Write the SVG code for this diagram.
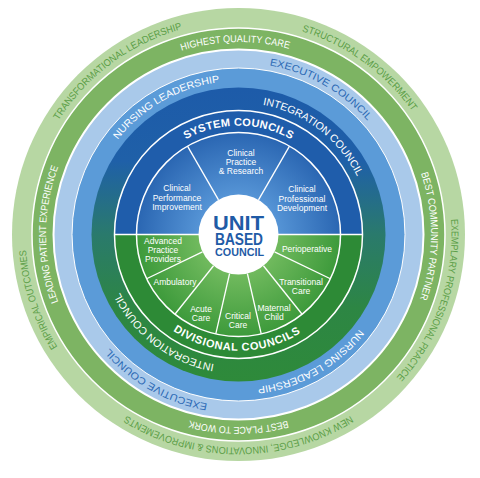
<svg xmlns="http://www.w3.org/2000/svg" xmlns:xlink="http://www.w3.org/1999/xlink" width="480" height="478" viewBox="0 0 480 478">
<style>
text{font-family:"Liberation Sans","Noto Sans",Arial,sans-serif;}
.t-outer{font-size:10px;fill:#5b9e47;}
.t-white{font-size:10px;fill:#ffffff;}
.t-blue{font-size:10px;fill:#2c6ab5;}
.t-int{font-size:10.5px;fill:#ffffff;}
.t-bold{font-size:11px;font-weight:bold;fill:#ffffff;}
.lab{font-size:8.5px;fill:#ffffff;text-anchor:middle;}
.ctr{font-weight:bold;fill:#1f5ba6;text-anchor:middle;}
.sep{fill:none;stroke:#ffffff;}
.spoke{stroke:#ffffff;stroke-width:1.3;}
</style>
<defs>
<path id="a213" d="M28.74,197.51 A213,213 0 0 1 448.26,197.51"/>
<path id="a192" d="M48.93,201.07 A192.5,192.5 0 0 1 428.07,201.07"/>
<path id="a172" d="M69.11,204.63 A172,172 0 0 1 407.89,204.63"/>
<path id="a153" d="M87.33,207.84 A153.5,153.5 0 0 1 389.67,207.84"/>
<path id="a132" d="M108.5,211.58 A132,132 0 0 1 368.5,211.58"/>
<path id="a109" d="M131.35,215.61 A108.8,108.8 0 0 1 345.65,215.61"/>
<path id="b116" d="M123.97,254.70 A116.3,116.3 0 0 0 353.03,254.70"/>
<linearGradient id="gDark" gradientUnits="userSpaceOnUse" x1="0" y1="88" x2="0" y2="381">
<stop offset="0" stop-color="#1d5ba9"/>
<stop offset="0.25" stop-color="#1f60a8"/>
<stop offset="0.5" stop-color="#2a7a6c"/>
<stop offset="0.75" stop-color="#2d8644"/>
<stop offset="1" stop-color="#2e8a3a"/>
</linearGradient>
<radialGradient id="gTop" gradientUnits="userSpaceOnUse" cx="238.5" cy="234.5" r="102">
<stop offset="0.35" stop-color="#5897d8"/>
<stop offset="1" stop-color="#2a66b2"/>
</radialGradient>
<radialGradient id="gBot" gradientUnits="userSpaceOnUse" cx="238.5" cy="234.5" r="102">
<stop offset="0.35" stop-color="#74bc60"/>
<stop offset="1" stop-color="#3d9a3b"/>
</radialGradient>
</defs>
<rect width="480" height="478" fill="#ffffff"/>

<g id="ring-outer">
<circle cx="238.5" cy="234.5" r="226.5" fill="#b7d7a3"/>
<text class="t-outer" transform="rotate(-36.5 238.5 234.5)"><textPath xlink:href="#a213" href="#a213" startOffset="50%" text-anchor="middle" textLength="157" lengthAdjust="spacingAndGlyphs">TRANSFORMATIONAL LEADERSHIP</textPath></text>
<text class="t-outer" transform="rotate(36 238.5 234.5)"><textPath xlink:href="#a213" href="#a213" startOffset="50%" text-anchor="middle" textLength="139" lengthAdjust="spacingAndGlyphs">STRUCTURAL EMPOWERMENT</textPath></text>
<text class="t-outer" transform="rotate(109 238.5 234.5)"><textPath xlink:href="#a213" href="#a213" startOffset="50%" text-anchor="middle" textLength="172" lengthAdjust="spacingAndGlyphs">EXEMPLARY PROFESSIONAL PRACTICE</textPath></text>
<text class="t-outer" transform="rotate(180 238.5 234.5)"><textPath xlink:href="#a213" href="#a213" startOffset="50%" text-anchor="middle" textLength="236" lengthAdjust="spacingAndGlyphs">NEW KNOWLEDGE, INNOVATIONS &amp; IMPROVEMENTS</textPath></text>
<text class="t-outer" transform="rotate(252 238.5 234.5)"><textPath xlink:href="#a213" href="#a213" startOffset="50%" text-anchor="middle" textLength="103" lengthAdjust="spacingAndGlyphs">EMPIRICAL OUTCOMES</textPath></text>
</g>

<g id="ring-goals">
<circle cx="238.5" cy="234.5" r="206.5" fill="#7db463" stroke="#ffffff" stroke-width="1.5"/>
<text class="t-white" transform="rotate(-1 238.5 234.5)"><textPath xlink:href="#a192" href="#a192" startOffset="50%" text-anchor="middle" textLength="109" lengthAdjust="spacingAndGlyphs">HIGHEST QUALITY CARE</textPath></text>
<text class="t-white" transform="rotate(90.5 238.5 234.5)"><textPath xlink:href="#a192" href="#a192" startOffset="50%" text-anchor="middle" textLength="128" lengthAdjust="spacingAndGlyphs">BEST COMMUNITY PARTNER</textPath></text>
<text class="t-white" transform="rotate(180 238.5 234.5)"><textPath xlink:href="#a192" href="#a192" startOffset="50%" text-anchor="middle" textLength="99" lengthAdjust="spacingAndGlyphs">BEST PLACE TO WORK</textPath></text>
<text class="t-white" transform="rotate(270 238.5 234.5)"><textPath xlink:href="#a192" href="#a192" startOffset="50%" text-anchor="middle" textLength="138" lengthAdjust="spacingAndGlyphs">LEADING PATIENT EXPERIENCE</textPath></text>
</g>

<g id="ring-executive">
<circle cx="238.5" cy="234.5" r="185" fill="#a9c9ea" stroke="#ffffff" stroke-width="2"/>
<text class="t-blue" transform="rotate(29.5 238.5 234.5)"><textPath xlink:href="#a172" href="#a172" startOffset="50%" text-anchor="middle" textLength="115" lengthAdjust="spacingAndGlyphs">EXECUTIVE COUNCIL</textPath></text>
<text class="t-blue" transform="rotate(209.5 238.5 234.5)"><textPath xlink:href="#a172" href="#a172" startOffset="50%" text-anchor="middle" textLength="115" lengthAdjust="spacingAndGlyphs">EXECUTIVE COUNCIL</textPath></text>
</g>

<g id="ring-nursing">
<circle cx="238.5" cy="234.5" r="166.5" fill="#5b9bd8" stroke="#ffffff" stroke-width="1"/>
<text class="t-white" transform="rotate(-29.5 238.5 234.5)"><textPath xlink:href="#a153" href="#a153" startOffset="50%" text-anchor="middle" textLength="120" lengthAdjust="spacingAndGlyphs">NURSING LEADERSHIP</textPath></text>
<text class="t-white" transform="rotate(150.5 238.5 234.5)"><textPath xlink:href="#a153" href="#a153" startOffset="50%" text-anchor="middle" textLength="120" lengthAdjust="spacingAndGlyphs">NURSING LEADERSHIP</textPath></text>
</g>

<g id="ring-integration">
<circle cx="238.5" cy="234.5" r="147" fill="url(#gDark)"/>
<text class="t-int" transform="rotate(37.3 238.5 234.5)"><textPath xlink:href="#a132" href="#a132" startOffset="50%" text-anchor="middle" textLength="123" lengthAdjust="spacingAndGlyphs">INTEGRATION COUNCIL</textPath></text>
<text class="t-int" transform="rotate(217.3 238.5 234.5)"><textPath xlink:href="#a132" href="#a132" startOffset="50%" text-anchor="middle" textLength="123" lengthAdjust="spacingAndGlyphs">INTEGRATION COUNCIL</textPath></text>
</g>

<g id="ring-councils">
<path d="M114.5,234.5 A124,124 0 0 1 362.5,234.5 Z" fill="#1f5dab"/>
<path d="M114.5,234.5 A124,124 0 0 0 362.5,234.5 Z" fill="#2d8a36"/>
<circle class="sep" cx="238.5" cy="234.5" r="124" stroke-width="1.5"/>
<text class="t-bold"><textPath xlink:href="#a109" href="#a109" startOffset="50%" text-anchor="middle" textLength="110" lengthAdjust="spacing">SYSTEM COUNCILS</textPath></text>
<text class="t-bold" transform="rotate(1 238.5 234.5)"><textPath xlink:href="#b116" href="#b116" startOffset="50%" text-anchor="middle" textLength="135" lengthAdjust="spacing">DIVISIONAL COUNCILS</textPath></text>
</g>

<g id="inner-sectors">
<path d="M136.5,234.5 A102,102 0 0 1 340.5,234.5 Z" fill="url(#gTop)"/>
<path d="M136.5,234.5 A102,102 0 0 0 340.5,234.5 Z" fill="url(#gBot)"/>
<circle class="sep" cx="238.5" cy="234.5" r="102" stroke-width="1.5"/>
</g>

<g id="connectors">
<line class="spoke" x1="114.5" y1="234.5" x2="362.5" y2="234.5"/>
<line class="spoke" x1="238.5" y1="194.5" x2="238.5" y2="132.5" transform="rotate(-30 238.5 234.5)"/>
<line class="spoke" x1="238.5" y1="194.5" x2="238.5" y2="132.5" transform="rotate(30 238.5 234.5)"/>
<line class="spoke" x1="238.5" y1="194.5" x2="238.5" y2="132.5" transform="rotate(115.71 238.5 234.5)"/>
<line class="spoke" x1="238.5" y1="194.5" x2="238.5" y2="132.5" transform="rotate(141.43 238.5 234.5)"/>
<line class="spoke" x1="238.5" y1="194.5" x2="238.5" y2="132.5" transform="rotate(167.14 238.5 234.5)"/>
<line class="spoke" x1="238.5" y1="194.5" x2="238.5" y2="132.5" transform="rotate(192.86 238.5 234.5)"/>
<line class="spoke" x1="238.5" y1="194.5" x2="238.5" y2="132.5" transform="rotate(218.57 238.5 234.5)"/>
<line class="spoke" x1="238.5" y1="194.5" x2="238.5" y2="132.5" transform="rotate(244.29 238.5 234.5)"/>
</g>

<g id="sector-cpr"><text class="lab" x="241" y="156">Clinical<tspan x="241" dy="9">Practice</tspan><tspan x="241" dy="9">&amp; Research</tspan></text></g>
<g id="sector-cpi"><text class="lab" x="177" y="191">Clinical<tspan x="177" dy="9.5">Performance</tspan><tspan x="177" dy="9.5">Improvement</tspan></text></g>
<g id="sector-cpd"><text class="lab" x="302" y="192">Clinical<tspan x="302" dy="9.5">Professional</tspan><tspan x="302" dy="9.5">Development</tspan></text></g>
<g id="sector-app"><text class="lab" x="163" y="244">Advanced<tspan x="163" dy="9">Practice</tspan><tspan x="163" dy="9">Providers</tspan></text></g>
<g id="sector-periop"><text class="lab" x="307" y="252">Perioperative</text></g>
<g id="sector-amb"><text class="lab" x="175" y="285">Ambulatory</text></g>
<g id="sector-trans"><text class="lab" x="301" y="285">Transitional<tspan x="301" dy="9">Care</tspan></text></g>
<g id="sector-acute"><text class="lab" x="201" y="312">Acute<tspan x="201" dy="9">Care</tspan></text></g>
<g id="sector-critical"><text class="lab" x="238" y="319">Critical<tspan x="238" dy="9">Care</tspan></text></g>
<g id="sector-maternal"><text class="lab" x="274" y="311">Maternal<tspan x="274" dy="9">Child</tspan></text></g>

<g id="center">
<circle cx="238.5" cy="234.5" r="40" fill="#ffffff"/>
<text class="ctr" x="238.5" y="229.5" font-size="20" textLength="51" lengthAdjust="spacingAndGlyphs">UNIT</text>
<text class="ctr" x="239" y="244.5" font-size="16.5" textLength="48" lengthAdjust="spacingAndGlyphs">BASED</text>
<text class="ctr" x="239.5" y="255.5" font-size="10.5" textLength="49" lengthAdjust="spacingAndGlyphs">COUNCIL</text>
</g>
</svg>
